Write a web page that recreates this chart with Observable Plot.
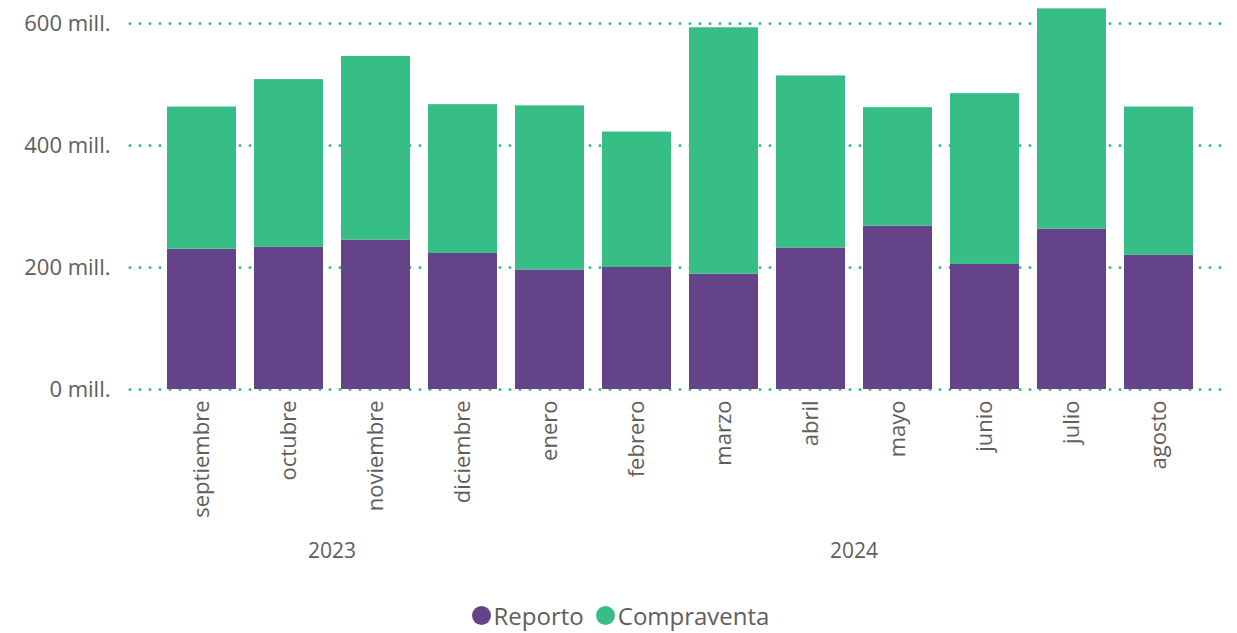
<!DOCTYPE html>
<html>
<head>
<meta charset="utf-8">
<script src="https://cdn.jsdelivr.net/npm/d3@7"></script>
<script src="https://cdn.jsdelivr.net/npm/@observablehq/plot@0.6"></script>
<style>
  html, body { margin: 0; padding: 0; background: #fff; }
  body { width: 1237px; height: 633px; overflow: hidden; font-family: "Open Sans", "Noto Sans", sans-serif; }
  #legend { display: flex; justify-content: center; align-items: center; gap: 12px; height: 35px; font-size: 24px; color: #605e5c; padding-left: 4px; }
  .item { display: flex; align-items: center; gap: 3px; }
  .dot { width: 19px; height: 19px; border-radius: 50%; display: inline-block; }
</style>
</head>
<body>
<div id="chart"></div>
<div id="legend"></div>
<script>
const months = ["septiembre","octubre","noviembre","diciembre","enero","febrero","marzo","abril","mayo","junio","julio","agosto"];
const years = ["2023","2023","2023","2023","2024","2024","2024","2024","2024","2024","2024","2024"];
const reporto = [230, 233, 245, 223, 196, 200, 189, 232, 268, 205, 263, 220];
const compraventa = [233, 275, 301, 244, 269, 222, 404, 282, 194, 280, 361, 243];
const seriesNames = ["Reporto", "Compraventa"];
const seriesColors = ["#644388", "#37bd86"];
const yTicks = [0, 200, 400, 600];

const data = [];
months.forEach((m, i) => {
  data.push({month: m, year: years[i], series: "Reporto", value: reporto[i]});
  data.push({month: m, year: years[i], series: "Compraventa", value: compraventa[i]});
});

const textColor = "#605e5c";
const plot = Plot.plot({
  width: 1237,
  height: 598,
  marginTop: 23,
  marginBottom: 209,
  marginLeft: 130,
  marginRight: 8,
  style: {fontFamily: "'Open Sans', 'Noto Sans', sans-serif", color: textColor, background: "#fff"},
  x: {domain: months, paddingInner: 0.208, paddingOuter: 0.413},
  y: {domain: [0, 600]},
  color: {domain: seriesNames, range: seriesColors},
  marks: [
    Plot.ruleY(yTicks, {stroke: "#37bd86", strokeWidth: 3, strokeDasharray: "0 10", strokeLinecap: "round", insetRight: 7}),
    Plot.barY(data, {x: "month", y: "value", fill: "series"}),
    Plot.axisY({ticks: yTicks, tickSize: 0, tickPadding: 20, fontSize: 22, label: null, tickFormat: d => `${d} mill.`, fill: textColor}),
    Plot.axisX({tickSize: 0, tickPadding: 11, tickRotate: -90, fontSize: 22, label: null, fill: textColor})
  ]
});
document.getElementById("chart").appendChild(plot);

// Year group labels placed through the plot's x scale
const xs = plot.scale("x");
const bw = xs.bandwidth;
const svg = d3.select(plot);
const uniqueYears = Array.from(new Set(years));
uniqueYears.forEach(y => {
  const ms = months.filter((m, i) => years[i] === y);
  const x0 = xs.apply(ms[0]) + bw / 2;
  const x1 = xs.apply(ms[ms.length - 1]) + bw / 2;
  svg.append("text")
    .attr("x", (x0 + x1) / 2)
    .attr("y", 552)
    .attr("text-anchor", "middle")
    .attr("dominant-baseline", "middle")
    .attr("font-size", 21)
    .attr("fill", textColor)
    .text(y);
});

const legend = document.getElementById("legend");
seriesNames.forEach((s, i) => {
  const item = document.createElement("span");
  item.className = "item";
  const dot = document.createElement("span");
  dot.className = "dot";
  dot.style.background = seriesColors[i];
  item.appendChild(dot);
  item.appendChild(document.createTextNode(s));
  legend.appendChild(item);
});
</script>
</body>
</html>
